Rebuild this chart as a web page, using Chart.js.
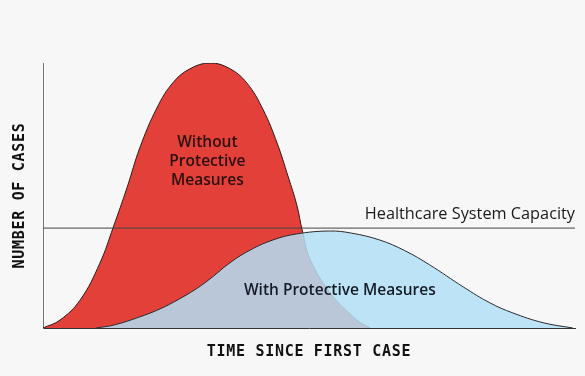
<!DOCTYPE html>
<html><head><meta charset="utf-8">
<script src="https://cdn.jsdelivr.net/npm/chart.js@4"></script>
<style>html,body{margin:0;padding:0;background:#f7f7f7;}#wrap{width:585px;height:376px;}</style>
</head><body><div id="wrap"><canvas id="c" width="585" height="376"></canvas></div>
<script>
// Data (time since first case, 0..100; cases, 0..100)
const withoutX = [0, 3.2, 7, 10.7, 13.2, 15.8, 18.2, 21.4, 24.4, 27.6, 31.4, 35, 38.3, 41.4, 44, 46.1, 47.7, 48.8, 50.2, 54, 59, 61.5];
const withoutY = [0, 3, 10.6, 24.5, 38, 53, 68, 83, 92.5, 97.8, 100, 98, 92.5, 82.3, 69.8, 57, 46.5, 36.2, 26, 13.2, 3, 0];
const withX = [10, 13.5, 18.2, 21.3, 24.4, 28.9, 32, 34.6, 38.3, 43.2, 47.7, 53.9, 58, 63.3, 68, 72.7, 79, 84, 88.3, 94, 99.6];
const withY = [0, 1.2, 4.2, 6.6, 9.6, 14.9, 19.5, 23.8, 28.7, 33.2, 35.5, 36.6, 35.8, 33.2, 29.2, 23.8, 15.5, 9.5, 5.7, 2, 0];
const capacityX = [0, 100];
const capacityY = [37.7, 37.7];
const labels = {
  without: ["Without", "Protective", "Measures"],
  with: "With Protective Measures",
  capacity: "Healthcare System Capacity",
  xTitle: "TIME SINCE FIRST CASE",
  yTitle: "NUMBER OF CASES"
};

const pts = (xs, ys) => xs.map((x, i) => ({x, y: ys[i]}));

const textPlugin = {
  id: 'texts',
  afterDatasetsDraw(chart) {
    const {ctx, scales: {x, y}, chartArea: ca} = chart;
    ctx.save();
    ctx.textAlign = 'center';
    ctx.textBaseline = 'middle';
    ctx.fillStyle = '#2b0f0f';
    ctx.font = '600 15.5px "Open Sans", sans-serif';
    const cx = x.getPixelForValue(30.9);
    labels.without.forEach((t, i) => ctx.fillText(t, cx, y.getPixelForValue(70) + i * 19));
    ctx.fillStyle = '#141a26';
    ctx.font = '600 15.5px "Open Sans", sans-serif';
    ctx.fillText(labels.with, x.getPixelForValue(55.8), y.getPixelForValue(14));
    ctx.fillStyle = '#1a1a1a';
    ctx.font = '500 16.3px "Open Sans", sans-serif';
    ctx.textAlign = 'right';
    ctx.fillText(labels.capacity, x.getPixelForValue(100), y.getPixelForValue(43));
    // axis titles
    ctx.textAlign = 'center';
    ctx.fillStyle = '#111';
    ctx.font = 'bold 15px "DejaVu Sans Mono", monospace';
    ctx.letterSpacing = '0.7px';
    ctx.fillText(labels.xTitle, (ca.left + ca.right) / 2, ca.bottom + 24);
    ctx.translate(ca.left - 23, (ca.top + ca.bottom) / 2);
    ctx.rotate(-Math.PI / 2);
    ctx.fillText(labels.yTitle, 0, 0);
    ctx.restore();
  }
};

new Chart(document.getElementById('c'), {
  type: 'line',
  data: {
    datasets: [
      {
        label: 'With Protective Measures',
        data: pts(withX, withY),
        fill: 'origin',
        backgroundColor: 'rgba(179,223,246,0.85)',
        borderColor: '#2a2a2a',
        borderWidth: 1,
        pointRadius: 0,
        tension: 0.4,
        order: 1
      },
      {
        label: 'Without Protective Measures',
        data: pts(withoutX, withoutY),
        fill: 'origin',
        backgroundColor: '#e3403a',
        borderColor: '#2a1a1a',
        borderWidth: 1,
        pointRadius: 0,
        tension: 0.4,
        order: 2
      },
      {
        label: 'Healthcare System Capacity',
        data: pts(capacityX, capacityY),
        fill: false,
        borderColor: '#444',
        borderWidth: 1,
        pointRadius: 0,
        order: 0
      }
    ]
  },
  options: {
    responsive: false,
    animation: false,
    events: [],
    layout: {padding: {left: 43, right: 10, top: 63, bottom: 48}},
    plugins: {legend: {display: false}, tooltip: {enabled: false}},
    scales: {
      x: {
        type: 'linear', min: 0, max: 100,
        ticks: {display: false}, grid: {display: false},
        border: {display: true, color: '#333', width: 1},
        afterFit(s) { s.height = 0; }
      },
      y: {
        min: 0, max: 100,
        ticks: {display: false}, grid: {display: false},
        border: {display: true, color: '#777', width: 1},
        afterFit(s) { s.width = 0; }
      }
    }
  },
  plugins: [textPlugin]
});
</script>
</body></html>
